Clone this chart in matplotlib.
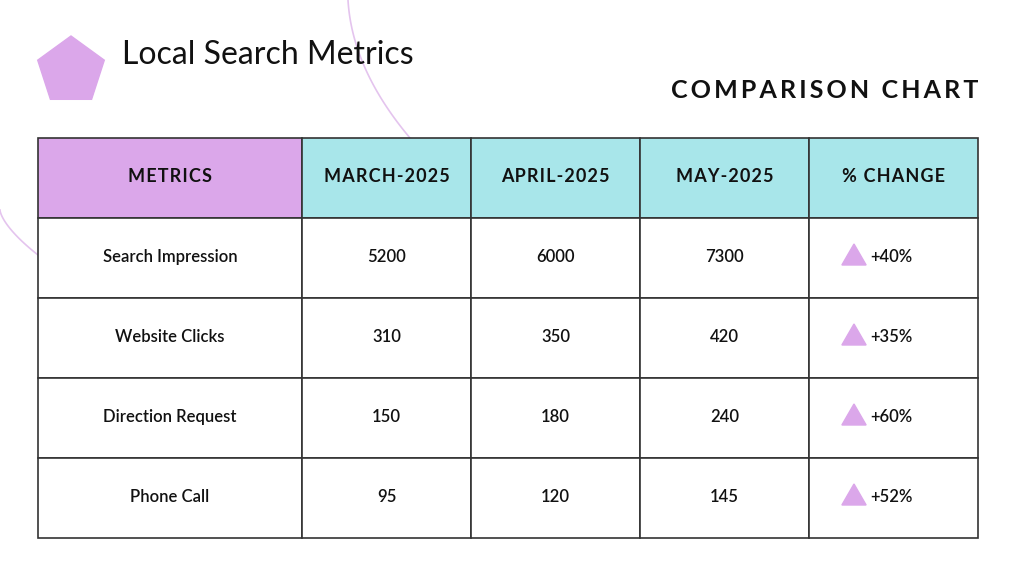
import matplotlib
matplotlib.use("Agg")
import matplotlib.pyplot as plt
from matplotlib.patches import Rectangle, RegularPolygon
import numpy as np

title = "Local Search Metrics"
subtitle = "COMPARISON CHART"
headers = ["METRICS", "MARCH-2025", "APRIL-2025", "MAY-2025", "% CHANGE"]
metrics = ["Search Impression", "Website Clicks", "Direction Request", "Phone Call"]
march = [5200, 310, 150, 95]
april = [6000, 350, 180, 120]
may = [7300, 420, 240, 145]
change = ["+40%", "+35%", "+60%", "+52%"]

W, H = 1024, 576
fig = plt.figure(figsize=(10.24, 5.76), dpi=100)
ax = fig.add_axes([0, 0, 1, 1])
ax.set_xlim(0, W); ax.set_ylim(H, 0); ax.axis("off")

purple = "#dba7ea"; cyan = "#a8e6ea"; fam = "Lato"
def spaced(s):
    return "\u2009".join(s)

t = np.linspace(0, 1, 100)
ax.plot(348 + 8*t + 54*t**2, 0 + 138*t, color="#e4c4ee", lw=1.2, zorder=0)
ax.plot(0 + 38*t**1.5, 210 + 45*t, color="#e4c4ee", lw=1.2, zorder=0)

ax.add_patch(RegularPolygon((71, 71), 5, radius=35, orientation=np.pi, color=purple, zorder=2))
ax.text(122, 55, title, fontsize=23, family=fam, va="center", ha="left", color="#111111")
ax.text(978, 91, spaced(subtitle), fontsize=18, family=fam, weight="bold",
        va="center", ha="right", color="#111111")

cols = [38, 302, 471, 640, 809, 978]
rows = [138, 218, 298, 378, 458, 538]
for i in range(5):
    ax.add_patch(Rectangle((cols[i], rows[0]), cols[i+1]-cols[i], rows[1]-rows[0],
                           facecolor=purple if i == 0 else cyan, edgecolor="#333333", lw=1.2))
    ax.text((cols[i]+cols[i+1])/2, 177, "\u200a".join(headers[i]),
            fontsize=13, family=fam, weight="bold", ha="center", va="center", color="#111111")
for r in range(4):
    vals = [metrics[r], str(march[r]), str(april[r]), str(may[r])]
    for i in range(5):
        ax.add_patch(Rectangle((cols[i], rows[r+1]), cols[i+1]-cols[i], 80,
                               facecolor="white", edgecolor="#333333", lw=1.2))
    yc = rows[r+1] + 39
    for i in range(4):
        ax.text((cols[i]+cols[i+1])/2, yc, vals[i], fontsize=12, family=fam,
                ha="center", va="center", color="#111111", weight="semibold")
    ax.add_patch(RegularPolygon((854, yc+1), 3, radius=14, orientation=np.pi, color=purple))
    ax.text(870, yc, change[r], fontsize=12, family=fam, ha="left", va="center",
            color="#111111", weight="semibold")

fig.savefig("out.png", dpi=100)
